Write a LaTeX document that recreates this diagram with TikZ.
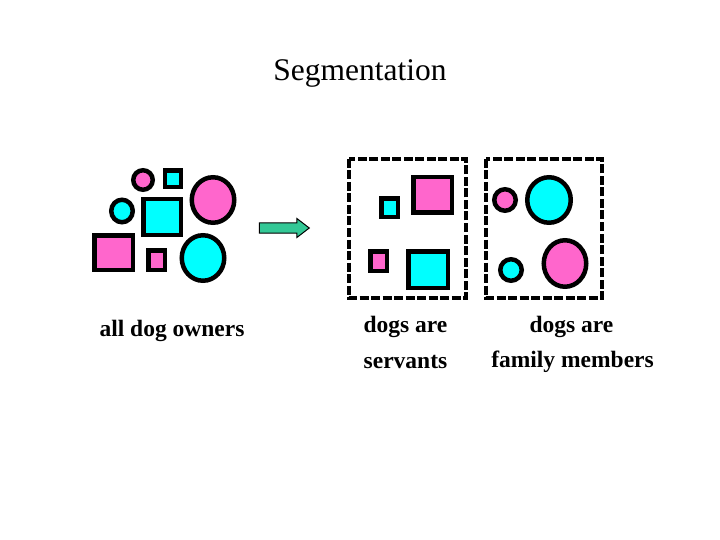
\documentclass[tikz,border=0pt]{standalone}
\usepackage{fontspec}
\setmainfont{Liberation Serif}
\usetikzlibrary{shapes.geometric, shapes.arrows, positioning}
\definecolor{dogpink}{RGB}{255,102,204}
\definecolor{dogcyan}{RGB}{0,255,255}
\definecolor{arrowgreen}{RGB}{51,200,150}

\begin{document}
\begin{tikzpicture}[x=1pt, y=-1pt, pinkdot/.style={ellipse, draw=black, fill=dogpink, line width=4.5pt, inner sep=0pt}, cyandot/.style={ellipse, draw=black, fill=dogcyan, line width=4.5pt, inner sep=0pt}, pinkbox/.style={rectangle, draw=black, fill=dogpink, line width=4.5pt, inner sep=0pt}, cyanbox/.style={rectangle, draw=black, fill=dogcyan, line width=4.5pt, inner sep=0pt}, groupbox/.style={draw=black, line width=4pt, dash pattern=on 9pt off 2.5pt}, label/.style={font=\fontsize{23.5}{28}\selectfont\bfseries, inner sep=0pt}]
    \useasboundingbox (0,0) rectangle (720,540);

    %Title
    \node[font=\fontsize{31.5}{36}\selectfont](title) at (360,73){Segmentation};

    %All owners
    \node[pinkdot, minimum width=19.5pt, minimum height=19.5pt](a1) at (143,180){};
    \node[cyanbox, minimum width=16pt, minimum height=16.5pt](a2) at (173,179){};
    \node[pinkdot, minimum width=42.5pt, minimum height=45.5pt](a3) at (213,200){};
    \node[cyandot, minimum width=21.5pt, minimum height=22.5pt](a4) at (122,211){};
    \node[cyanbox, minimum width=37.5pt, minimum height=35.5pt](a5) at (162,217){};
    \node[pinkbox, minimum width=38.5pt, minimum height=34.5pt](a6) at (113.5,252.5){};
    \node[pinkbox, minimum width=16.5pt, minimum height=19.5pt](a7) at (156.5,260){};
    \node[cyandot, minimum width=42.5pt, minimum height=45.5pt](a8) at (203,258){};

    %Arrow
    \node[single arrow, draw=black, fill=arrowgreen, line width=1pt, inner xsep=0pt, inner ysep=4.5pt, minimum height=50pt, single arrow head extend=4.5pt, single arrow tip angle=75](split) at (281,228){};

    %Servants
    \draw[groupbox] (349,159) rectangle (466,298);
    \node[pinkbox, minimum width=38.5pt, minimum height=35.5pt](s1) at (432.5,195){};
    \node[cyanbox, minimum width=16.5pt, minimum height=18.5pt](s2) at (389.5,208){};
    \node[pinkbox, minimum width=16.5pt, minimum height=19.5pt](s3) at (378.5,261){};
    \node[cyanbox, minimum width=39.5pt, minimum height=36.5pt](s4) at (428,269.5){};

    %Family members
    \draw[groupbox] (486,159) rectangle (602,298);
    \node[pinkdot, minimum width=21.5pt, minimum height=21.5pt](f1) at (505,200){};
    \node[cyandot, minimum width=43.5pt, minimum height=45.5pt](f2) at (549,200){};
    \node[cyandot, minimum width=21.5pt, minimum height=21.5pt](f3) at (511,270){};
    \node[pinkdot, minimum width=42.5pt, minimum height=46.5pt](f4) at (565,263.5){};

    %Labels
    \node[label](all) at (172,331){all dog owners};
    \node[label](serv1) at (405.5,327){dogs are};
    \node[label](serv2) at (405.5,362){servants};
    \node[label](fam1) at (571.5,327){dogs are};
    \node[label](fam2) at (572.5,362){family members};
\end{tikzpicture}
\end{document}
